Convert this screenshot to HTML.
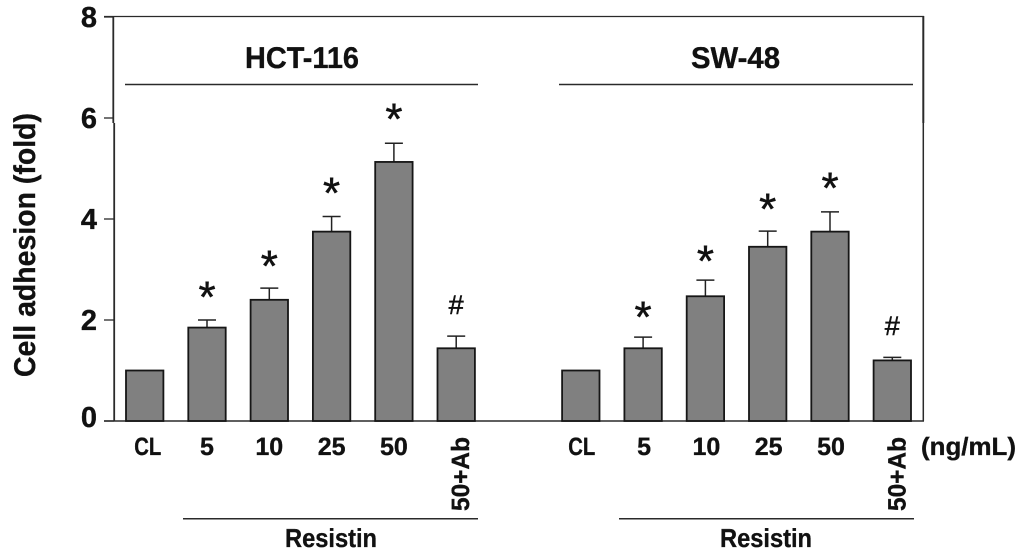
<!DOCTYPE html>
<html lang="en">
<head>
<meta charset="utf-8">
<title>Cell adhesion chart</title>
<style>
html,body{margin:0;padding:0;background:#fff;width:1024px;height:555px;overflow:hidden}
svg{display:block;filter:blur(0.35px)}
text{font-family:"Liberation Sans",sans-serif;fill:#111;text-rendering:geometricPrecision}
.b,text[font-weight="bold"]{font-weight:bold;stroke:#111;stroke-width:0.35px}
</style>
</head>
<body>
<svg id="chart" width="1024" height="555" viewBox="0 0 1024 555" xmlns="http://www.w3.org/2000/svg">
  <g id="frame" stroke="#2a2a2a" fill="none">
    <line x1="104" y1="16.5" x2="924" y2="16.5" stroke-width="1.3"/>
    <line x1="113.3" y1="16" x2="113.3" y2="123" stroke-width="1.8"/>
    <line x1="114.2" y1="123" x2="114.2" y2="421" stroke-width="1.8"/>
    <line x1="923.3" y1="16" x2="923.3" y2="123" stroke-width="2"/>
    <line x1="923.3" y1="123" x2="923.3" y2="421" stroke-width="1.5"/>
    <line x1="104" y1="421" x2="924" y2="421" stroke-width="1.5"/>
    <line x1="125" y1="84.5" x2="478" y2="84.5" stroke-width="1.5"/>
    <line x1="559" y1="84.5" x2="913" y2="84.5" stroke-width="1.5"/>
    <line x1="183" y1="518.7" x2="478" y2="518.7" stroke-width="1.5"/>
    <line x1="619" y1="518.7" x2="914" y2="518.7" stroke-width="1.5"/>
  </g>
  <text class="b" transform="translate(35,377) rotate(-90)" font-size="30" textLength="264" lengthAdjust="spacingAndGlyphs">Cell adhesion (fold)</text>
  <text class="b" x="245" y="68" font-size="30" textLength="114" lengthAdjust="spacingAndGlyphs">HCT-116</text>
  <text class="b" x="691" y="68" font-size="30" textLength="89" lengthAdjust="spacingAndGlyphs">SW-48</text>
  <text class="b" x="285" y="547" font-size="26" textLength="92" lengthAdjust="spacingAndGlyphs">Resistin</text>
  <text class="b" x="720" y="547" font-size="26" textLength="92" lengthAdjust="spacingAndGlyphs">Resistin</text>
  <text class="b" x="921" y="455" font-size="25" textLength="95" lengthAdjust="spacingAndGlyphs">(ng/mL)</text>
  <g id="marks"></g>
</svg>
<script>
const yTicks = [0, 2, 4, 6, 8];
const categories = ["CL", "5", "10", "25", "50", "50+Ab"];
const hctValues = [1, 1.85, 2.4, 3.75, 5.13, 1.44];
const hctTops = [null, 2.0, 2.63, 4.05, 5.5, 1.68];
const hctMarks = [null, "*", "*", "*", "*", "#"];
const hctMarkLevels = [null, 2.55, 3.17, 4.61, 6.08, 2.3];
const swValues = [1, 1.44, 2.47, 3.45, 3.75, 1.2];
const swTops = [null, 1.66, 2.79, 3.76, 4.14, 1.26];
const swMarks = [null, "*", "*", "*", "*", "#"];
const swMarkLevels = [null, 2.16, 3.27, 4.3, 4.71, 1.88];

const NS = "http://www.w3.org/2000/svg";
const root = document.getElementById("marks");
const y = v => 421 - v * 50.5;
const x = (start, i) => start + i * 62.3;

function make(tag, attrs, text) {
  const el = document.createElementNS(NS, tag);
  for (const k in attrs) el.setAttribute(k, attrs[k]);
  if (text !== undefined) el.textContent = text;
  root.appendChild(el);
  return el;
}

yTicks.forEach(t => {
  const tick = make("line", {x1: 104, x2: 114, y1: y(t), y2: y(t), stroke: "#2a2a2a", "stroke-width": 1.3});
  
  
  const label = make("text", {x: 97, y: y(t) + (t === 0 ? 6 : 10), "text-anchor": "end", "font-size": 29, "font-weight": "bold"}, t);
  
  
});

function drawGroup(prefix, start, clShift, labelShift, values, tops, marks, levels) {
  categories.forEach((cat, i) => {
    const cx = x(start, i);
    if (tops[i] !== null) {
      const stem = make("line", {x1: cx, x2: cx, y1: y(tops[i]), y2: y(values[i]), stroke: "#222", "stroke-width": 1.5});
      
      
      const cap = make("line", {x1: cx - 9, x2: cx + 9, y1: y(tops[i]), y2: y(tops[i]), stroke: "#222", "stroke-width": 1.5});
      
      
    }
    const bar = make("rect", {x: cx - 18.7, y: y(values[i]), width: 37.4, height: 421 - y(values[i]), fill: "#808080", stroke: "#161616", "stroke-width": 1.8});
    
    
    if (marks[i] === "*") {
      const star = make("text", {x: cx, y: y(levels[i]) + 20, "text-anchor": "middle", "font-size": 44, stroke: "#111", "stroke-width": 0.5}, marks[i]);
      
      
    } else if (marks[i] === "#") {
      const hash = make("text", {x: cx, y: y(levels[i]) + 9, "text-anchor": "middle", "font-size": 27, stroke: "#111", "stroke-width": 0.5}, marks[i]);
      
      
    }
    if (cat === "50+Ab") {
      const rot = make("text", {transform: "translate(" + (cx + 13) + ",511) rotate(-90)", "font-size": 25, "font-weight": "bold", textLength: 74, lengthAdjust: "spacingAndGlyphs"}, cat);
      
      
    } else {
      const attrs = {x: cx + (i === 0 ? clShift : labelShift), y: 455, "text-anchor": "middle", "font-size": 25, "font-weight": "bold"};
      if (cat === "CL") { attrs.textLength = 27; attrs.lengthAdjust = "spacingAndGlyphs"; }
      const lab = make("text", attrs, cat);
      
      
    }
  });
}

drawGroup("hct-116", 144.7, 3, 0, hctValues, hctTops, hctMarks, hctMarkLevels);
drawGroup("sw-48", 580.8, 1, 1, swValues, swTops, swMarks, swMarkLevels);
</script>
</body>
</html>
